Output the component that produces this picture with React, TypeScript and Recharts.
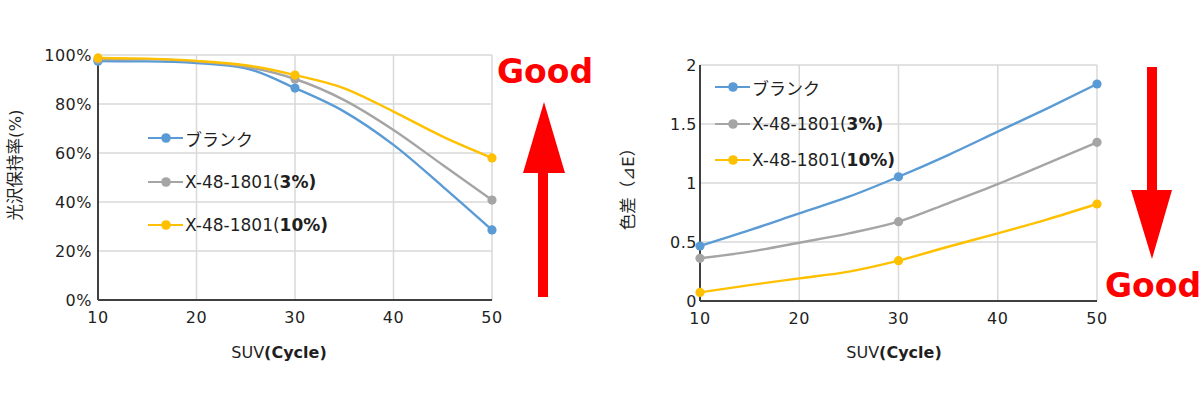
import React from 'react';
import { LineChart, Line, XAxis, YAxis, CartesianGrid, Legend } from 'recharts';

const cycles = [10, 15, 20, 25, 30, 35, 40, 45, 50];
const markerCycles = [10, 30, 50];

const glossBlank = [97.5, 97.4, 96.7, 94.6, 86.5, 76.9, 63.3, 46.3, 28.6];
const gloss3 = [98.2, 98.3, 97.3, 95.2, 90.2, 81.6, 69.4, 55.1, 40.8];
const gloss10 = [98.8, 98.5, 97.6, 95.8, 91.8, 86.4, 76.9, 66.7, 58.0];

const deBlank = [0.466, 0.6, 0.743, 0.884, 1.053, 1.237, 1.435, 1.633, 1.839];
const de3 = [0.362, 0.418, 0.494, 0.573, 0.672, 0.828, 0.99, 1.167, 1.345];
const de10 = [0.073, 0.135, 0.192, 0.249, 0.342, 0.46, 0.573, 0.692, 0.822];

const glossTicks = [0, 20, 40, 60, 80, 100];
const deTicks = [0, 0.5, 1, 1.5, 2];
const xTicks = [10, 20, 30, 40, 50];

const seriesNames = ['ブランク', 'X-48-1801(', 'X-48-1801('];
const seriesBold = ['', '3%)', '10%)'];
const colors = ['#5B9BD5', '#A5A5A5', '#FFC000'];

const glossData = cycles.map((c, i) => ({ cycle: c, s0: glossBlank[i], s1: gloss3[i], s2: gloss10[i] }));
const deData = cycles.map((c, i) => ({ cycle: c, s0: deBlank[i], s1: de3[i], s2: de10[i] }));

const FONT = "'DejaVu Sans', 'Noto Sans CJK JP', sans-serif";
const TEXT = '#1f1f1f';
const AXIS = '#404040';
const GRID = '#d9d9d9';

const makeDot = (color: string) => (props: any) => {
  const { cx, cy, payload, index } = props;
  if (!markerCycles.includes(payload.cycle)) return <g key={`d${index}`} />;
  return <circle key={`d${index}`} cx={cx} cy={cy} r={4.6} fill={color} stroke="none" />;
};

const makeLegend = (spacing: number) => () => (
  <div style={{ position: 'relative', fontFamily: FONT, fontSize: 17, color: TEXT }}>
    {seriesNames.map((name, i) => (
      <div
        key={i}
        style={{ position: 'absolute', left: 0, top: i * spacing, height: 22, display: 'flex', alignItems: 'center', whiteSpace: 'nowrap' }}
      >
        <svg width={36} height={14} style={{ display: 'block' }}>
          <line x1={0} y1={7} x2={35} y2={7} stroke={colors[i]} strokeWidth={2.2} />
          <circle cx={18} cy={7} r={4.8} fill={colors[i]} />
        </svg>
        <span style={{ marginLeft: 1 }}>
          {name}
          {seriesBold[i] ? <b>{seriesBold[i]}</b> : null}
        </span>
      </div>
    ))}
  </div>
);

const xLabel = (cx: number, y: number) => () => (
  <text x={cx} y={y} textAnchor="middle" fontFamily={FONT} fontSize={16} fill={TEXT}>
    <tspan>SUV</tspan>
    <tspan fontWeight="bold">(Cycle)</tspan>
  </text>
);

const yLabel = (text: string, cx: number, cy: number) => () => (
  <text x={cx} y={cy} transform={`rotate(-90 ${cx} ${cy})`} textAnchor="middle" dominantBaseline="central" fontFamily={FONT} fontSize={16.5} fill={TEXT}>
    {text}
  </text>
);

const tickStyle = { fontFamily: FONT, fontSize: 16, fill: TEXT, letterSpacing: 0.5 };

export default function App() {
  return (
    <div style={{ position: 'absolute', left: 0, top: 0, width: 1200, height: 397, background: '#fff', overflow: 'hidden' }}>
      <div style={{ position: 'absolute', left: 0, top: 0 }}>
        <LineChart width={520} height={397} data={glossData} margin={{ top: 55, right: 28, bottom: 67, left: 0 }}>
          <CartesianGrid stroke={GRID} strokeWidth={1.5} vertical={true} horizontal={true} />
          <XAxis
            dataKey="cycle"
            type="number"
            domain={[10, 50]}
            ticks={xTicks}
            height={30}
            tickLine={false}
            tickSize={8}
            tickMargin={4}
            axisLine={{ stroke: AXIS, strokeWidth: 2 }}
            tick={tickStyle}
            label={xLabel(279, 358)}
          />
          <YAxis
            type="number"
            domain={[0, 100]}
            ticks={glossTicks}
            width={98}
            tickLine={false}
            tickSize={4}
            tickMargin={2}
            axisLine={{ stroke: AXIS, strokeWidth: 2 }}
            tick={tickStyle}
            tickFormatter={(v: number) => `${v}%`}
            label={yLabel('光沢保持率(%)', 15, 165)}
          />
          {['s0', 's1', 's2'].map((k, i) => (
            <Line
              key={k}
              dataKey={k}
              type="monotone"
              stroke={colors[i]}
              strokeWidth={2.4}
              dot={makeDot(colors[i])}
              activeDot={false}
              isAnimationActive={false}
            />
          ))}
          <Legend
            layout="vertical"
            align="center"
            verticalAlign="middle"
            content={makeLegend(43.5)}
            wrapperStyle={{ left: 148, top: 127, width: 300, height: 120 }}
          />
        </LineChart>
      </div>
      <div style={{ position: 'absolute', left: 600, top: 0 }}>
        <LineChart width={600} height={397} data={deData} margin={{ top: 65, right: 103, bottom: 66, left: 0 }}>
          <CartesianGrid stroke={GRID} strokeWidth={1.5} vertical={true} horizontal={true} />
          <XAxis
            dataKey="cycle"
            type="number"
            domain={[10, 50]}
            ticks={xTicks}
            height={30}
            tickLine={false}
            tickSize={8}
            tickMargin={4}
            axisLine={{ stroke: AXIS, strokeWidth: 2 }}
            tick={tickStyle}
            label={xLabel(294, 358)}
          />
          <YAxis
            type="number"
            domain={[0, 2]}
            ticks={deTicks}
            width={100}
            tickLine={false}
            tickSize={2}
            tickMargin={1}
            axisLine={{ stroke: AXIS, strokeWidth: 2 }}
            tick={tickStyle}
            label={yLabel('色差（⊿E）', 28, 185)}
          />
          {['s0', 's1', 's2'].map((k, i) => (
            <Line
              key={k}
              dataKey={k}
              type="monotone"
              stroke={colors[i]}
              strokeWidth={2.4}
              dot={makeDot(colors[i])}
              activeDot={false}
              isAnimationActive={false}
            />
          ))}
          <Legend
            layout="vertical"
            align="center"
            verticalAlign="middle"
            content={makeLegend(36.5)}
            wrapperStyle={{ left: 115, top: 76, width: 300, height: 110 }}
          />
        </LineChart>
      </div>
      <svg width={1200} height={397} style={{ position: 'absolute', left: 0, top: 0, pointerEvents: 'none' }}>
        <polygon points="538,297 548,297 548,173 565,173 544,102 523,173 538,173" fill="#FF0000" />
        <text x={497} y={83} fontFamily={FONT} fontWeight="bold" fontSize={33} fill="#FF0000">Good</text>
        <polygon points="1147,67 1157,67 1157,190 1172,190 1152,259 1131,190 1147,190" fill="#FF0000" />
        <text x={1105} y={297} fontFamily={FONT} fontWeight="bold" fontSize={33} fill="#FF0000">Good</text>
      </svg>
    </div>
  );
}
